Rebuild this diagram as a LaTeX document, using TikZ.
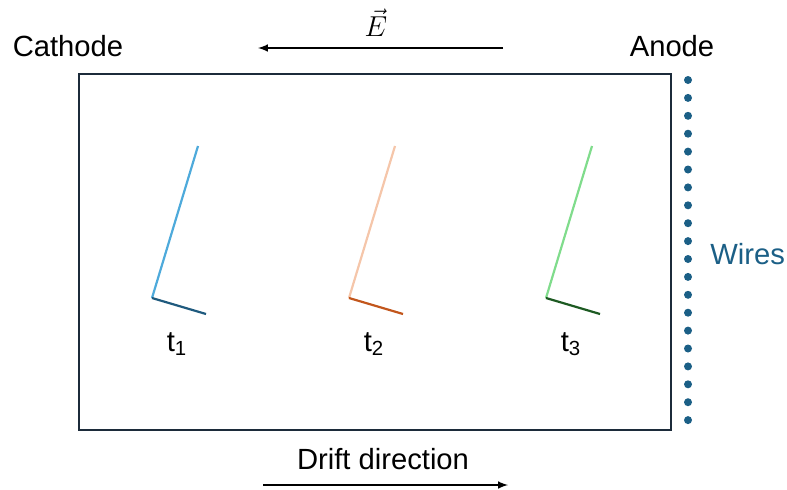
\documentclass[tikz,border=0pt]{standalone}
\usepackage{fontspec}
\setmainfont{Liberation Sans}
\usepackage{tikz}
\usetikzlibrary{positioning, calc, arrows}
\definecolor{wireblue}{HTML}{1B5F86}
\definecolor{boxnavy}{HTML}{1C2B3A}
\definecolor{trkAlong}{HTML}{4EAADB}
\definecolor{trkAshort}{HTML}{1F5A7E}
\definecolor{trkBlong}{HTML}{F5C6AA}
\definecolor{trkBshort}{HTML}{C2561C}
\definecolor{trkClong}{HTML}{80DC8C}
\definecolor{trkCshort}{HTML}{1D5A22}
\tikzset{>=latex}
\tikzset{font=\fontsize{14.6}{17}\selectfont}
\tikzset{lbl/.style={inner sep=0pt},
  track/.style={line width=1.1pt},
  wiredot/.style={circle, fill=wireblue, inner sep=0pt, minimum size=4pt}}

\begin{document}
\begin{tikzpicture}[x=0.5pt, y=-0.5pt]
        \useasboundingbox (0, 0) rectangle (787, 489); %
        \draw[boxnavy, line width=1pt] (79, 74) rectangle (671, 430); %
        \node[lbl] (cathode) at (68, 46) {Cathode}; %
        \node[lbl] (anode) at (672, 46) {Anode}; %
        % field arrow
        \coordinate (efrom) at (503, 48); %
        \coordinate (eto) at (258, 48); %
        \draw[->, line width=0.7pt] (efrom) -- (eto); %
        \node[lbl] (efield) at (376, 23) {$\vec{E}$}; %
        % tracks
        \foreach \dx/\lc/\sc/\i in {0/trkAlong/trkAshort/1, 197/trkBlong/trkBshort/2, 394/trkClong/trkCshort/3} {
          \coordinate (top\i) at ($(198, 146) + (\dx, 0)$); %
          \coordinate (knee\i) at ($(152, 298) + (\dx, 0)$); %
          \coordinate (end\i) at ($(206, 314) + (\dx, 0)$); %
          \draw[track, \lc] (top\i) -- (knee\i); %
          \draw[track, \sc] (knee\i) -- (end\i); %
          \node[lbl] (t\i) at ($(177, 344) + (\dx, 0)$) {t\textsubscript{\i}}; %
        }
        % wires
        \foreach \k in {0,...,19}
          \node[wiredot] (w\k) at (688, 80 + 17.9*\k) {}; %
        \node[lbl, wireblue, anchor=west] (wires) at (710, 254) {Wires}; %
        % drift
        \node[lbl] (drift) at (383, 459) {Drift direction}; %
        \coordinate (dfrom) at (263, 485); %
        \coordinate (dto) at (508, 485); %
        \draw[->, line width=0.7pt] (dfrom) -- (dto); %
      \end{tikzpicture}
\end{document}
